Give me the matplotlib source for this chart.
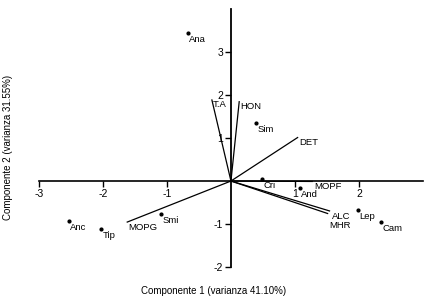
import matplotlib
matplotlib.use("Agg")
import matplotlib.pyplot as plt

plt.rcParams['font.family'] = ['Liberation Sans', 'DejaVu Sans']

# Scores (observations)
obs_names = ["Ana", "Sim", "Anc", "Tip", "Smi", "Cri", "And", "Lep", "Cam"]
obs_x = [-0.67, 0.39, -2.53, -2.03, -1.09, 0.48, 1.08, 1.98, 2.35]
obs_y = [3.44, 1.36, -0.92, -1.12, -0.77, 0.04, -0.16, -0.67, -0.95]

# Loadings (variables)
var_names = ["T.A", "HON", "DET", "MOPG", "ALC", "MHR", "MOPF"]
var_x = [-0.30, 0.13, 1.05, -1.63, 1.55, 1.52, 1.28]
var_y = [1.90, 1.86, 1.02, -0.96, -0.70, -0.76, -0.01]

xticks = [-3, -2, -1, 1, 2]
yticks = [-2, -1, 1, 2, 3]
xlabel = "Componente 1 (varianza 41.10%)"
ylabel = "Componente 2 (varianza 31.55%)"

fig = plt.figure(figsize=(4.28, 3.03), dpi=100)
ax = fig.add_axes([0.0911, 0.1188, 0.8970, 0.8512])
ax.set_xlim(-3, 3)
ax.set_ylim(-2, 4)

for s in ["top", "right"]:
    ax.spines[s].set_visible(False)
ax.spines["left"].set_position(("data", 0))
ax.spines["bottom"].set_position(("data", 0))
ax.spines["left"].set_linewidth(1.3)
ax.spines["bottom"].set_linewidth(1.2)
ax.set_xticks(xticks)
ax.set_yticks(yticks)
ax.set_xticklabels([str(t) for t in xticks])
ax.set_yticklabels([str(t) for t in yticks])
ax.tick_params(axis="both", direction="out", length=4, width=1.0, labelsize=7.5, pad=1.5)

# vectors
for n, x, y in zip(var_names, var_x, var_y):
    ax.plot([0, x], [0, y], color="black", lw=0.9, solid_capstyle="butt")
    dy = -5 if n == "MHR" else -0.5
    ax.annotate(n, (x, y), xytext=(1, dy), textcoords="offset points",
                ha="left", va="top", fontsize=6.8)

# points
ax.scatter(obs_x, obs_y, s=4, color="black", zorder=3)
for n, x, y in zip(obs_names, obs_x, obs_y):
    ax.annotate(n, (x, y), xytext=(1, -1.5), textcoords="offset points",
                ha="left", va="top", fontsize=6.8)

fig.text(0.50, 0.022, xlabel, ha="center", va="bottom", fontsize=7)
fig.text(0.008, 0.512, ylabel, ha="left", va="center", rotation=90, fontsize=7)

fig.savefig("out.png", dpi=100)
